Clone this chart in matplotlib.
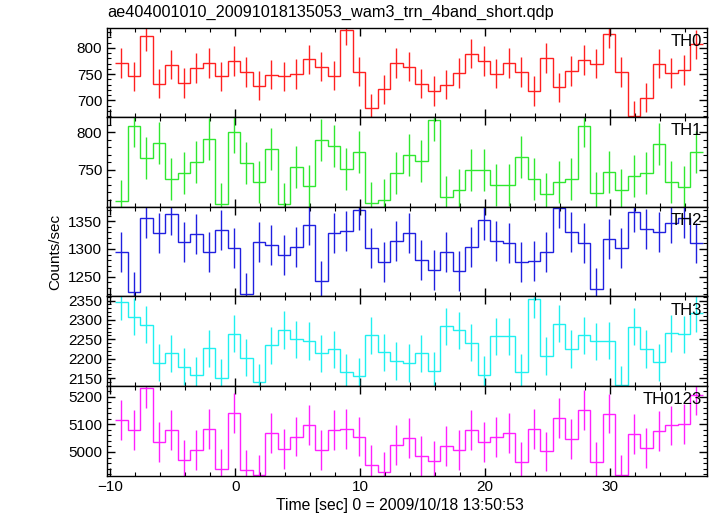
import numpy as np
import matplotlib.pyplot as plt
from matplotlib.ticker import MultipleLocator

plt.rcParams['font.family'] = ['Liberation Sans', 'DejaVu Sans']

# time bins (sec), 1 s wide
bin_start = -9.6
n_bins = 47

th0 = [771, 746, 823, 732, 768, 733, 762, 771, 746, 775, 754, 728, 749, 746, 750, 778,
       764, 747, 834, 755, 685, 721, 771, 764, 732, 718, 730, 752, 789, 775, 751, 771,
       754, 718, 781, 725, 756, 777, 770, 827, 754, 671, 705, 770, 752, 758, 807]
th1 = [708, 808, 765, 785, 737, 746, 760, 791, 704, 800, 759, 734, 778, 704, 753, 728,
       790, 781, 751, 773, 705, 710, 745, 769, 762, 816, 713, 723, 749, 750, 730, 729,
       767, 737, 717, 733, 737, 808, 719, 747, 723, 742, 746, 784, 733, 727, 773]
th2 = [1294, 1223, 1355, 1329, 1362, 1312, 1327, 1295, 1334, 1301, 1220, 1312, 1307, 1289, 1303, 1344,
       1242, 1328, 1332, 1370, 1302, 1277, 1315, 1329, 1281, 1263, 1295, 1260, 1303, 1352, 1314, 1311,
       1276, 1278, 1295, 1374, 1330, 1311, 1229, 1318, 1302, 1367, 1336, 1331, 1346, 1356, 1310]
th3 = [2347, 2308, 2288, 2190, 2214, 2180, 2157, 2227, 2151, 2265, 2203, 2139, 2235, 2274, 2250, 2246,
       2214, 2224, 2165, 2155, 2260, 2217, 2194, 2189, 2214, 2169, 2284, 2273, 2241, 2159, 2258, 2258,
       2165, 2354, 2207, 2290, 2225, 2260, 2245, 2247, 2133, 2283, 2225, 2191, 2266, 2263, 2317]
th0123 = [5117, 5081, 5230, 5037, 5081, 4971, 5008, 5083, 4939, 5142, 4936, 4917, 5070, 5011, 5056, 5099,
          5008, 5081, 5082, 5056, 4954, 4929, 5026, 5050, 4987, 4968, 5022, 5008, 5081, 5037, 5054, 5070,
          4963, 5084, 5002, 5122, 5048, 5153, 4963, 5139, 4917, 5066, 5014, 5077, 5096, 5102, 5205]

names = ['TH0', 'TH1', 'TH2', 'TH3', 'TH0123']
series = [th0, th1, th2, th3, th0123]
errors = [28, 28, 36, 48, 72]
colors = ['#ff2020', '#30e830', '#2020e0', '#20f0f0', '#ff20ff']
ylims = [(668, 839), (700.5, 820), (1215, 1376), (2130, 2361), (4915, 5239)]
ymajor = [50, 50, 50, 50, 100]
yminor = [10, 10, 10, 10, 20]

edges = bin_start + np.arange(n_bins + 1)
centers = edges[:-1] + 0.5

fig = plt.figure(figsize=(7.17, 5.16), dpi=100)
left, right = 107 / 717, 707 / 717
top = 1 - 27.5 / 516
h = 89.6 / 516

axes = []
for i in range(5):
    ax = fig.add_axes([left, top - (i + 1) * h, right - left, h])
    vals = np.array(series[i])
    ax.stairs(vals, edges, baseline=None, color=colors[i], lw=1.0)
    ax.errorbar(centers, vals, yerr=errors[i], fmt='none', ecolor=colors[i], elinewidth=1.0, capsize=0)
    ax.set_xlim(-10.25, 37.75)
    ax.set_ylim(*ylims[i])
    ax.xaxis.set_major_locator(MultipleLocator(10))
    ax.xaxis.set_minor_locator(MultipleLocator(2))
    ax.yaxis.set_major_locator(MultipleLocator(ymajor[i]))
    ax.yaxis.set_minor_locator(MultipleLocator(yminor[i]))
    ax.tick_params(which='both', direction='in', top=True, right=True, labelsize=11)
    ax.tick_params(which='major', length=6, width=1)
    ax.tick_params(which='minor', length=3, width=0.8)
    if i < 4:
        ax.tick_params(labelbottom=False)
    for s in ax.spines.values():
        s.set_linewidth(1.0)
    ax.text(0.992, 0.93, names[i], transform=ax.transAxes, ha='right', va='top', fontsize=12)
    axes.append(ax)

fig.text(left, 1 - 12 / 516, 'ae404001010_20091018135053_wam3_trn_4band_short.qdp',
         ha='left', va='center', fontsize=11.7)
fig.text(55 / 717, 1 - 252 / 516, 'Counts/sec', rotation=90, ha='center', va='center', fontsize=11)
axes[-1].set_xlabel('Time [sec] 0 = 2009/10/18 13:50:53', fontsize=11.3)
axes[-1].xaxis.set_label_coords((400 - 107) / 600, -0.255)

plt.savefig('out.png', dpi=100)
